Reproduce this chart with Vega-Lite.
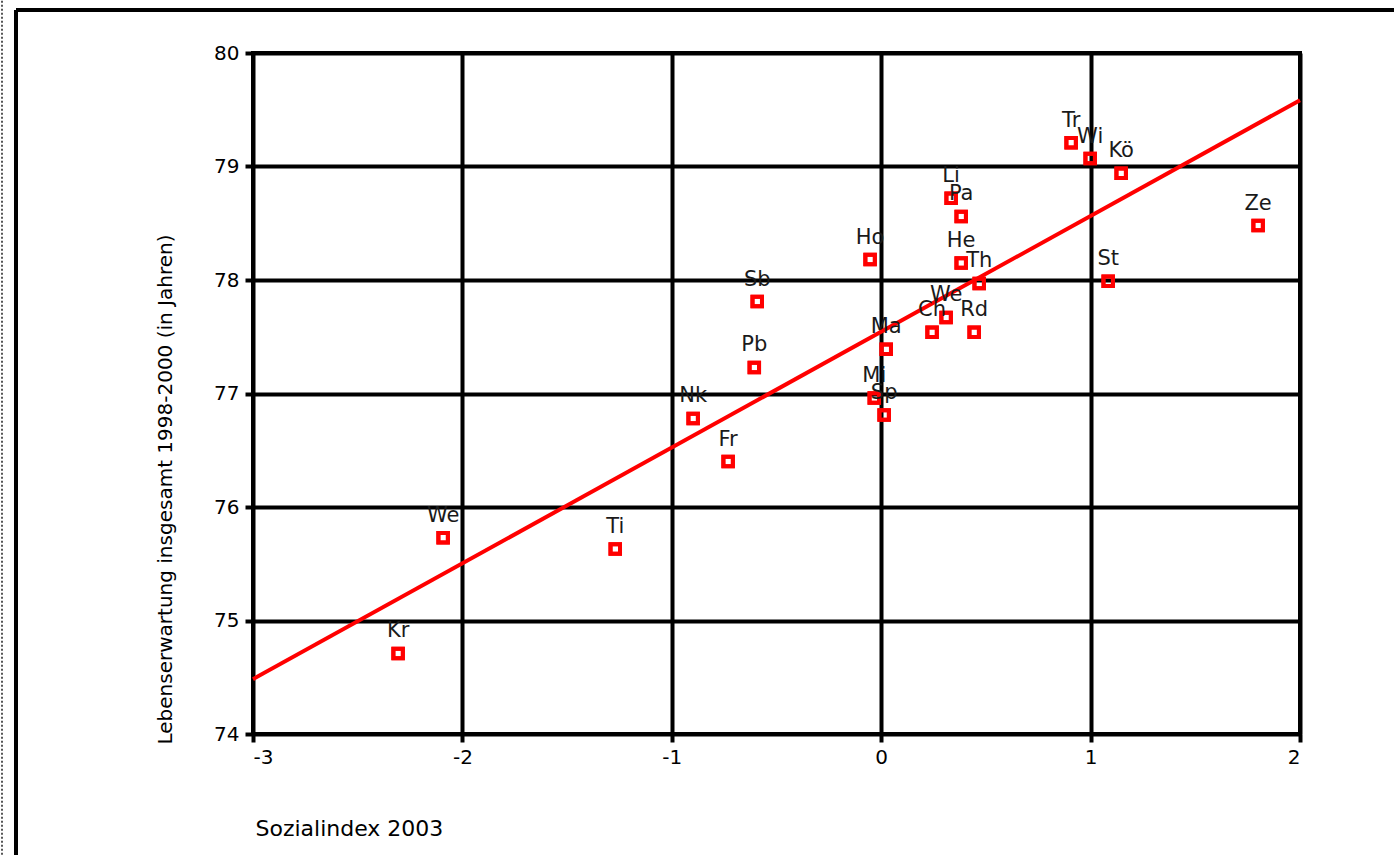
{
  "$schema": "https://vega.github.io/schema/vega-lite/v6.json",
  "autosize": "none",
  "width": 1047,
  "height": 681,
  "padding": {"left": 253, "top": 53, "right": 94, "bottom": 121},
  "background": "white",
  "config": {"view": {"stroke": "black", "strokeWidth": 4}, "font": "DejaVu Sans"},
  "resolve": {"axis": {"x": "independent", "y": "independent"}},
  "datasets": {
    "pts": [
      {"label": "Kr", "x": -2.307, "y": 74.71},
      {"label": "We", "x": -2.092, "y": 75.73},
      {"label": "Ti", "x": -1.270, "y": 75.63},
      {"label": "Nk", "x": -0.898, "y": 76.78},
      {"label": "Fr", "x": -0.731, "y": 76.40},
      {"label": "Pb", "x": -0.606, "y": 77.23},
      {"label": "Sb", "x": -0.592, "y": 77.81},
      {"label": "Ho", "x": -0.053, "y": 78.18},
      {"label": "Ma", "x": 0.024, "y": 77.39},
      {"label": "Mi", "x": -0.033, "y": 76.96},
      {"label": "Sp", "x": 0.014, "y": 76.81},
      {"label": "Ch", "x": 0.243, "y": 77.54},
      {"label": "We", "x": 0.310, "y": 77.67},
      {"label": "Rd", "x": 0.444, "y": 77.54},
      {"label": "Th", "x": 0.468, "y": 77.97},
      {"label": "He", "x": 0.382, "y": 78.15},
      {"label": "Pa", "x": 0.382, "y": 78.56},
      {"label": "Li", "x": 0.334, "y": 78.72},
      {"label": "Tr", "x": 0.907, "y": 79.21},
      {"label": "Wi", "x": 0.998, "y": 79.07},
      {"label": "Kö", "x": 1.146, "y": 78.94},
      {"label": "Ze", "x": 1.800, "y": 78.48},
      {"label": "St", "x": 1.084, "y": 77.99}
    ],
    "one": [{"k": 1}]
  },
  "layer": [
    {
      "data": {"name": "pts"},
      "mark": {"type": "point", "shape": "square", "filled": false, "color": "red", "strokeWidth": 4, "size": 90, "opacity": 1},
      "encoding": {
        "x": {
          "field": "x", "type": "quantitative",
          "scale": {"domain": [-3, 2], "nice": false, "zero": false},
          "axis": {
            "title": "Sozialindex 2003",
            "values": [-3, -2, -1, 0, 1, 2],
            "labelExpr": "'' + datum.value",
            "domain": false,
            "grid": true, "gridColor": "black", "gridWidth": 4, "gridOpacity": 1,
            "tickSize": 8, "tickWidth": 4, "tickColor": "black",
            "labelFontSize": 20, "labelColor": "black", "labelPadding": 5,
            "titleFontSize": 22, "titleFontWeight": "normal", "titleColor": "black",
            "titleX": 2, "titleY": 94, "titleAlign": "left", "titleBaseline": "middle"
          }
        },
        "y": {
          "field": "y", "type": "quantitative",
          "scale": {"domain": [74, 80], "nice": false, "zero": false},
          "axis": {
            "title": "Lebenserwartung insgesamt 1998-2000 (in Jahren)",
            "values": [74, 75, 76, 77, 78, 79, 80],
            "labelExpr": "'' + datum.value",
            "domain": false,
            "grid": true, "gridColor": "black", "gridWidth": 4, "gridOpacity": 1,
            "tickSize": 8, "tickWidth": 4, "tickColor": "black",
            "labelFontSize": 20, "labelColor": "black", "labelPadding": 6,
            "titleFontSize": 20, "titleFontWeight": "normal", "titleColor": "black",
            "titleX": -78, "titleY": 436, "titleAngle": -90, "titleAlign": "center", "titleBaseline": "bottom"
          }
        }
      }
    },
    {
      "data": {"name": "one"},
      "mark": {"type": "rule", "color": "black", "strokeWidth": 4},
      "encoding": {
        "x": {"datum": -4.1318, "type": "quantitative", "axis": null},
        "y": {"datum": 80.379, "type": "quantitative", "axis": null},
        "y2": {"datum": 72.5}
      }
    },
    {
      "data": {"name": "one"},
      "mark": {"type": "rule", "color": "black", "strokeWidth": 4},
      "encoding": {
        "y": {"datum": 80.379, "type": "quantitative", "axis": null},
        "x": {"datum": -4.1318, "type": "quantitative", "axis": null},
        "x2": {"datum": 2.6}
      }
    },
    {
      "data": {"name": "one"},
      "mark": {"type": "rule", "color": "#555555", "strokeWidth": 2, "strokeDash": [2, 2]},
      "encoding": {
        "x": {"datum": -4.1987, "type": "quantitative", "axis": null},
        "y": {"datum": 80.46, "type": "quantitative", "axis": null},
        "y2": {"datum": 72.5}
      }
    },
    {
      "data": {"name": "pts"},
      "transform": [{"regression": "y", "on": "x", "extent": [-3, 2]}],
      "mark": {"type": "line", "color": "red", "strokeWidth": 4},
      "encoding": {
        "x": {"field": "x", "type": "quantitative", "axis": null},
        "y": {"field": "y", "type": "quantitative", "axis": null}
      }
    },
    {
      "data": {"name": "pts"},
      "mark": {"type": "point", "shape": "square", "filled": false, "color": "red", "strokeWidth": 4, "size": 90, "opacity": 1},
      "encoding": {
        "x": {"field": "x", "type": "quantitative", "axis": null},
        "y": {"field": "y", "type": "quantitative", "axis": null}
      }
    },
    {
      "data": {"name": "pts"},
      "mark": {"type": "text", "dy": -22, "fontSize": 21, "color": "#1a1a1a", "baseline": "middle", "align": "center"},
      "encoding": {
        "x": {"field": "x", "type": "quantitative", "axis": null},
        "y": {"field": "y", "type": "quantitative", "axis": null},
        "text": {"field": "label"}
      }
    }
  ]
}
